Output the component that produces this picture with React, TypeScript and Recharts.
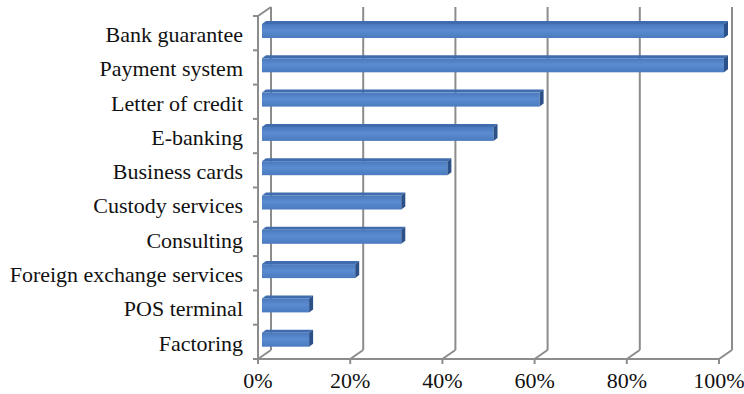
import { BarChart, Bar, XAxis, YAxis, CartesianGrid } from 'recharts';

const categories = [
  'Bank guarantee',
  'Payment system',
  'Letter of credit',
  'E-banking',
  'Business cards',
  'Custody services',
  'Consulting',
  'Foreign exchange services',
  'POS terminal',
  'Factoring',
];
const shares = [100, 100, 60, 50, 40, 30, 30, 20, 10, 10];
const xTicks = [0, 20, 40, 60, 80, 100];

const data = categories.map((name, i) => ({ name, value: shares[i] }));

// 3D look: depth of back wall, and bar depth
const DX = 13;
const DY = -9;
const PLOT_TOP = 16;
const PLOT_BOTTOM = 359;
const AXIS_X = 258;
const BAND = (PLOT_BOTTOM - PLOT_TOP) / categories.length;
const GRID = '#8c8c8c';
const FONT = '"Liberation Serif", "Times New Roman", serif';

const Bar3D = (props: any) => {
  const { x, y, width, height } = props;
  const x0 = x + 4;
  const x1 = x + width + 5;
  const fy = y - 2;
  const d = 4;
  const dy = 3;
  return (
    <g>
      <polygon
        points={`${x0},${fy} ${x1},${fy} ${x1 + d},${fy - dy} ${x0 + d},${fy - dy}`}
        fill="#3e6cae"
      />
      <rect x={x0} y={fy} width={x1 - x0} height={height} fill="url(#barFront)" />
      <polygon
        points={`${x1},${fy} ${x1 + d},${fy - dy} ${x1 + d},${fy + height - dy} ${x1},${fy + height}`}
        fill="#2c5088"
      />
    </g>
  );
};

const GridLine = (props: any) => {
  const { x1, y1, y2, index } = props;
  return (
    <g key={`v-${index}`}>
      <line x1={x1 + DX} y1={y1 + DY} x2={x1 + DX} y2={y2 + DY} stroke={GRID} strokeWidth={2} />
      <line x1={x1} y1={y2} x2={x1 + DX} y2={y2 + DY} stroke={GRID} strokeWidth={2} />
      {index === 0 && (
        <line x1={x1} y1={y1} x2={x1 + DX} y2={y1 + DY} stroke={GRID} strokeWidth={2} />
      )}
    </g>
  );
};

const YTick = (props: any) => {
  const { x, y, payload, index } = props;
  const top = y - BAND / 2;
  return (
    <g>
      <line x1={AXIS_X - 5} y1={top} x2={AXIS_X} y2={top} stroke={GRID} strokeWidth={2} />
      {index === categories.length - 1 && (
        <line x1={AXIS_X - 5} y1={y + BAND / 2} x2={AXIS_X} y2={y + BAND / 2} stroke={GRID} strokeWidth={2} />
      )}
      <text x={x} y={y + 1} dy="0.355em" textAnchor="end" fill="#111" fontSize={22} fontFamily={FONT}>
        {payload.value}
      </text>
    </g>
  );
};

export default function App() {
  return (
    <div style={{ position: 'absolute', left: 0, top: 0, background: '#fff' }}>
      <BarChart
        width={744}
        height={394}
        data={data}
        layout="vertical"
        margin={{ top: PLOT_TOP, right: 25, bottom: 0, left: 0 }}
        barCategoryGap={0}
      >
        <defs>
          <linearGradient id="barFront" x1="0" y1="0" x2="0" y2="1">
            <stop offset="0%" stopColor="#4a79bd" />
            <stop offset="45%" stopColor="#5b8bd0" />
            <stop offset="100%" stopColor="#4b7bbe" />
          </linearGradient>
        </defs>
        <CartesianGrid horizontal={false} vertical={GridLine} />
        <XAxis
          type="number"
          domain={[0, 100]}
          ticks={xTicks}
          tickFormatter={(v: number) => `${v}%`}
          axisLine={{ stroke: GRID, strokeWidth: 2 }}
          tickLine={{ stroke: GRID, strokeWidth: 2 }}
          tickSize={5}
          tickMargin={8}
          height={394 - PLOT_BOTTOM}
          tick={{ fill: '#111', fontSize: 22, fontFamily: FONT }}
          interval={0}
        />
        <YAxis
          type="category"
          dataKey="name"
          width={AXIS_X}
          axisLine={{ stroke: GRID, strokeWidth: 2 }}
          tickLine={false}
          tickSize={5}
          tickMargin={10}
          tick={<YTick />}
          interval={0}
        />
        <Bar dataKey="value" barSize={14} shape={<Bar3D />} isAnimationActive={false} />
      </BarChart>
    </div>
  );
}
